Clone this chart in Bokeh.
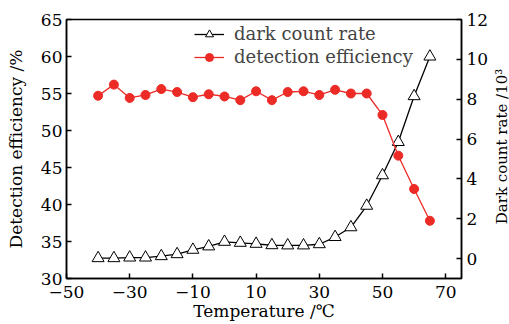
import math
from bokeh.plotting import figure
from bokeh.models import Range1d, LinearAxis, FixedTicker, Legend, LegendItem, Label
from bokeh.embed import file_html
from bokeh.resources import INLINE

temperature = [-40, -35, -30, -25, -20, -15, -10, -5, 0, 5, 10, 15, 20, 25, 30, 35, 40, 45, 50, 55, 60, 65]
efficiency = [54.7, 56.2, 54.4, 54.8, 55.6, 55.2, 54.5, 54.9, 54.6, 54.1, 55.3, 54.1, 55.2, 55.3, 54.8, 55.5, 55.0, 55.0, 52.1, 46.6, 42.1, 37.8]
dark_count = [0.02, 0.02, 0.05, 0.05, 0.12, 0.22, 0.44, 0.61, 0.84, 0.79, 0.74, 0.67, 0.66, 0.66, 0.72, 1.08, 1.57, 2.65, 4.18, 5.85, 8.15, 10.14]

x_ticks = [-50, -30, -10, 10, 30, 50, 70]
x_tick_labels = ["\u221250", "\u221230", "\u221210", "10", "30", "50", "70"]
left_ticks = [30, 35, 40, 45, 50, 55, 60, 65]
right_ticks = [0, 2, 4, 6, 8, 10, 12]

FONT = "DejaVu Serif"
RED = "#ec2a26"

p = figure(width=509, height=324, output_backend="svg", toolbar_location=None,
           x_range=Range1d(-50, 75), y_range=Range1d(30, 65),
           min_border_left=66, min_border_right=46, min_border_top=19, min_border_bottom=46)
p.extra_y_ranges = {"dark": Range1d(-1, 12)}
p.grid.visible = False
p.outline_line_color = "black"
p.outline_line_width = 1.5
p.background_fill_color = "white"
p.border_fill_color = "white"

def style_axis(ax):
    ax.axis_line_width = 1.5
    ax.axis_line_color = "black"
    ax.major_tick_in = 5
    ax.major_tick_out = 0
    ax.major_tick_line_width = 1.5
    ax.minor_tick_line_color = None
    ax.major_label_text_font = FONT
    ax.major_label_text_font_size = "17px"
    ax.major_label_text_color = "black"
    ax.axis_label_text_font = FONT
    ax.axis_label_text_font_size = "17px"
    ax.axis_label_text_font_style = "normal"
    ax.axis_label_text_color = "black"
    ax.major_label_standoff = 3
    ax.axis_label_standoff = 3

xa = p.xaxis[0]
style_axis(xa)
xa.ticker = FixedTicker(ticks=x_ticks)
xa.major_label_overrides = {t: l for t, l in zip(x_ticks, x_tick_labels)}
xa.axis_label = "Temperature /\u2103"
xa.major_label_standoff = 7
xa.axis_label_standoff = 0

ya = p.yaxis[0]
style_axis(ya)
ya.ticker = FixedTicker(ticks=left_ticks)
ya.axis_label = "Detection efficiency /%"
ya.major_label_standoff = 4
ya.axis_label_standoff = 12

ra = LinearAxis(y_range_name="dark", ticker=FixedTicker(ticks=right_ticks))
style_axis(ra)
ra.major_label_standoff = 5
p.add_layout(ra, "right")

# right axis title, reading bottom-to-top like the reference
right_title = Label(x=10, y=132, x_units="screen", y_units="screen",
                    text="Dark count rate /10\u00b3", angle=math.pi / 2,
                    text_align="center", text_baseline="middle",
                    text_font=FONT, text_font_size="15px", text_color="black")
p.add_layout(right_title, "right")

l1 = p.line(temperature, dark_count, y_range_name="dark", line_color="black", line_width=1.3)
s1 = p.scatter(temperature, dark_count, y_range_name="dark", marker="triangle", size=12,
               fill_color="white", line_color="black", line_width=1)
l2 = p.line(temperature, efficiency, line_color=RED, line_width=1.3)
s2 = p.scatter(temperature, efficiency, marker="circle", size=9, fill_color=RED, line_color=RED)

legend = Legend(items=[LegendItem(label="dark count rate", renderers=[l1, s1]),
                       LegendItem(label="detection efficiency", renderers=[l2, s2])],
                location=(128, 211), padding=0, margin=0, spacing=2,
                glyph_width=30, glyph_height=20, label_height=20, label_standoff=10,
                label_text_font=FONT, label_text_font_size="18px",
                background_fill_alpha=0, border_line_color=None)
p.add_layout(legend)

open("out.html", "w").write(file_html(p, INLINE))
